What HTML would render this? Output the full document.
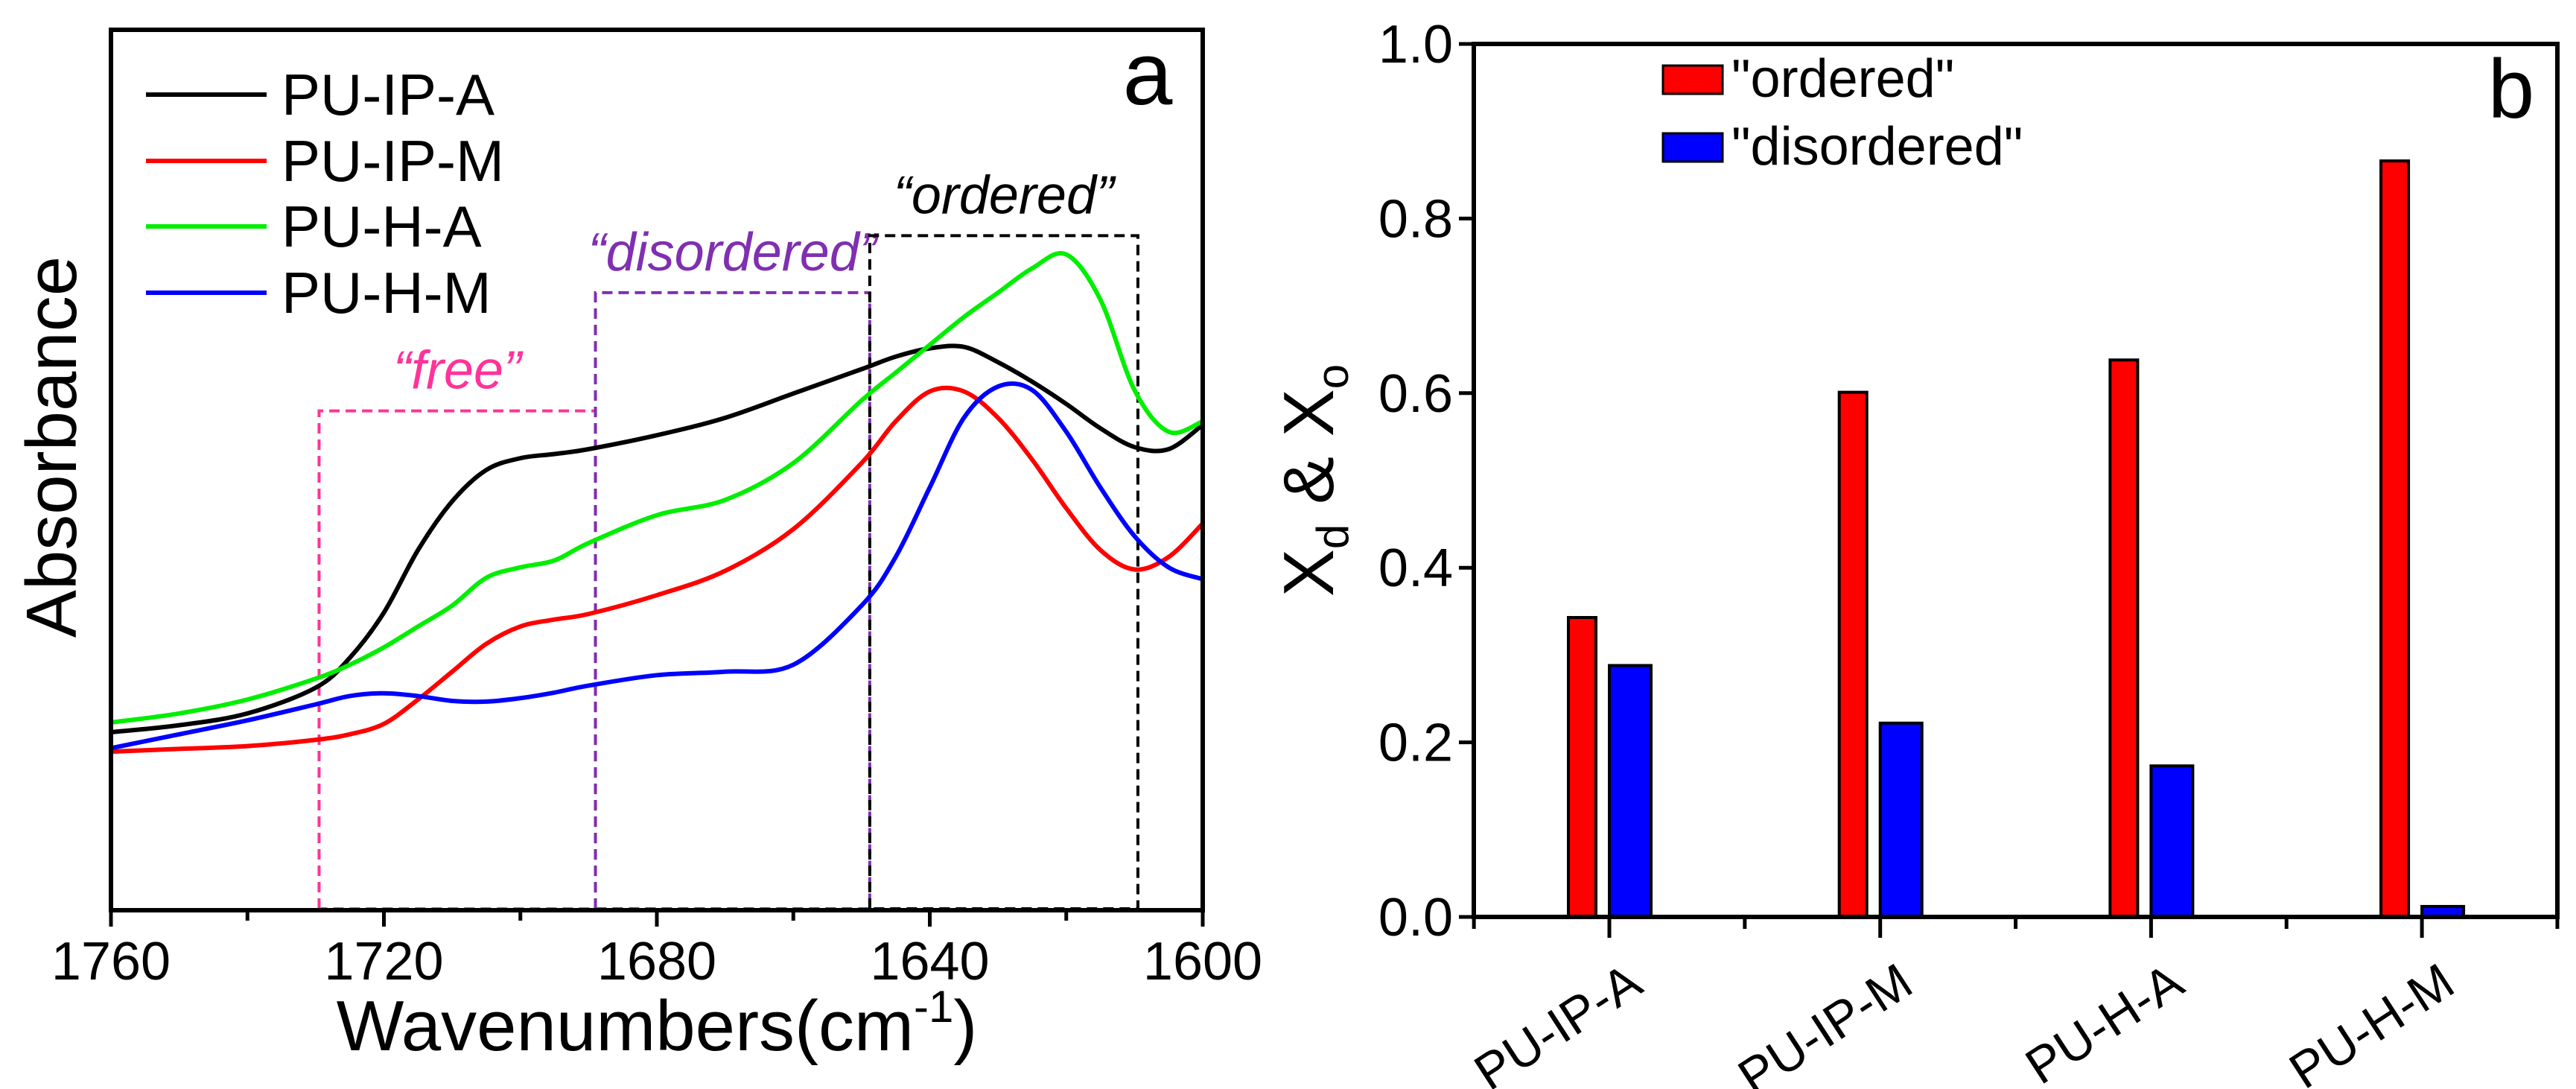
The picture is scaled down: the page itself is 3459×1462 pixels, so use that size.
<!DOCTYPE html>
<html><head><meta charset="utf-8">
<style>
html,body{margin:0;padding:0;background:#fff;}
svg{display:block;font-family:"Liberation Sans",Arial,sans-serif;}
</style></head>
<body>
<svg id="fig" width="3459" height="1462" viewBox="0 0 3459 1462" xmlns="http://www.w3.org/2000/svg">
<g id="pa"></g>
<g id="pb"></g>
</svg>
<script>
// ---------- Panel a data ----------
const wnPts = [1760,1750,1740,1730,1725,1720,1715,1710,1705,1700,1695,1690,1680,1670,1660,1650,1645,1640,1635,1630,1625,1620,1615,1610,1605,1600];
const absBlack = [1052,1042,1025,988,945,880,790,720,675,658,652,645,625,600,565,530,512,500,498,520,548,580,615,642,645,610];
const absRed   = [1080,1076,1072,1063,1055,1040,1005,965,925,900,890,882,855,820,760,665,605,562,562,600,660,730,790,818,800,752];
const absGreen = [1038,1025,1005,975,955,930,900,870,830,815,805,780,740,718,665,575,535,495,455,420,385,365,430,560,620,605];
const absBlue  = [1075,1055,1035,1012,1000,996,1000,1007,1008,1003,995,985,970,965,955,870,800,700,600,555,560,620,700,770,815,832];
const seriesNames = ["PU-IP-A","PU-IP-M","PU-H-A","PU-H-M"];
const seriesColors = ["#000000","#ff0000","#00ee00","#0000ff"];
const xTicksA = [1760,1720,1680,1640,1600];
const boxWn = [[1729.5,1689],[1689,1648.8],[1648.8,1609.5]];
const boxTop = [590,420,338];
const boxLabels = ["\u201cfree\u201d","\u201cdisordered\u201d","\u201cordered\u201d"];
const boxColors = ["#ff3399","#7f2fb0","#000000"];

// ---------- Panel b data ----------
const categories = ["PU-IP-A","PU-IP-M","PU-H-A","PU-H-M"];
const orderedVals = [0.343,0.601,0.638,0.866];
const disorderedVals = [0.288,0.222,0.173,0.012];
const yTicksB = ["0.0","0.2","0.4","0.6","0.8","1.0"];

const NS="http://www.w3.org/2000/svg";
function mk(tag, parent, attrs){const e=document.createElementNS(NS,tag);for(const k in attrs)e.setAttribute(k,attrs[k]);parent.appendChild(e);return e;}

// ---- Panel a ----
const pa=document.getElementById('pa');
const AL=149,AR=1615,AT=40,AB=1222;
const xA = wn => AL + (1760-wn)/(160)*(AR-AL);
const yA = d => AT + (d-42)*(AB-AT)/(1308-42);
function smooth(xs,ys){let p=`M${xs[0]},${ys[0]}`;for(let i=0;i<xs.length-1;i++){const x0=xs[Math.max(0,i-1)],y0=ys[Math.max(0,i-1)],x1=xs[i],y1=ys[i],x2=xs[i+1],y2=ys[i+1],x3=xs[Math.min(xs.length-1,i+2)],y3=ys[Math.min(xs.length-1,i+2)];p+=` C${x1+(x2-x0)/6},${y1+(y2-y0)/6} ${x2-(x3-x1)/6},${y2-(y3-y1)/6} ${x2},${y2}`;}return p;}

boxWn.forEach((b,i)=>{
  const x1=xA(b[0]),x2=xA(b[1]),yt=yA(boxTop[i]);
  const r=mk('path',pa,{d:`M${x1},${AB-2} L${x1},${yt} L${x2},${yt} L${x2},${AB-2} Z`,fill:'none',stroke:boxColors[i],'stroke-width':4,'stroke-dasharray':'14,8'});
  
  
  const t=mk('text',pa,{x:(x1+x2)/2,y:yt-30,'text-anchor':'middle','font-size':72,'font-style':'italic',fill:boxColors[i]});
  t.textContent=boxLabels[i];
  
  
});
[absBlack,absRed,absGreen,absBlue].forEach((s,i)=>{
  const xs=wnPts.map(xA), ys=s.map(yA);
  const p=mk('path',pa,{d:smooth(xs,ys),fill:'none',stroke:seriesColors[i],'stroke-width':6,'stroke-linejoin':'round'});
  
  
});
const fa=mk('rect',pa,{x:AL,y:AT,width:AR-AL,height:AB-AT,fill:'none',stroke:'#000','stroke-width':6});


for(let w=1760;w>=1600;w-=20){
  const major=(w%40===0);
  const tk=mk('line',pa,{x1:xA(w),x2:xA(w),y1:AB,y2:AB+(major?22:14),stroke:'#000','stroke-width':5});
  
  
}
xTicksA.forEach(w=>{
  const t=mk('text',pa,{x:xA(w),y:1315,'text-anchor':'middle','font-size':72,fill:'#000'});
  t.textContent=w;
  
  
});
seriesNames.forEach((n,i)=>{
  const y=[127,216,304,393][i];
  const l=mk('line',pa,{x1:196,x2:358,y1:y,y2:y,stroke:seriesColors[i],'stroke-width':6});
  
  
  const t=mk('text',pa,{x:378,y:y+27,'font-size':78,fill:'#000'});
  t.textContent=n;
  
  
});
</script>
<script>
(function(){
const pa=document.getElementById('pa');
const a=mk('text',pa,{x:1541,y:140,'text-anchor':'middle','font-size':120,fill:'#000'});a.textContent='a';


const xt=mk('text',pa,{x:882,y:1410,'text-anchor':'middle','font-size':96,fill:'#000'});
xt.innerHTML='Wavenumbers(cm<tspan font-size="60" dy="-38">-1</tspan><tspan dy="38">)</tspan>';


const yt=mk('text',pa,{x:0,y:0,'text-anchor':'middle','font-size':96,fill:'#000',transform:'translate(102,600) rotate(-90)'});
yt.textContent='Absorbance';


})();

(function(){
const pb=document.getElementById('pb');
const BL=1979,BR=3434,BT=59,BB=1231;
const yB = v => BB - v*(BB-BT);
const cat0=2161, catStep=363.7;
const xB = i => cat0 + i*catStep;
categories.forEach((c,i)=>{
  const r=mk('rect',pb,{x:xB(i)-55,y:yB(orderedVals[i]),width:37,height:BB-yB(orderedVals[i]),fill:'#ff0000',stroke:'#000','stroke-width':4});
  
  
  const b=mk('rect',pb,{x:xB(i),y:yB(disorderedVals[i]),width:56,height:BB-yB(disorderedVals[i]),fill:'#0000ff',stroke:'#000','stroke-width':4});
  
  
  const t=mk('text',pb,{x:0,y:0,'text-anchor':'end','font-size':68,fill:'#000',transform:`translate(${xB(i)+48},${1330}) rotate(-33)`});
  t.textContent=c;
  
  
});
const fb=mk('rect',pb,{x:BL,y:BT,width:BR-BL,height:BB-BT,fill:'none',stroke:'#000','stroke-width':6});


yTicksB.forEach(s=>{
  const v=parseFloat(s);
  const tk=mk('line',pb,{x1:BL-20,x2:BL,y1:yB(v),y2:yB(v),stroke:'#000','stroke-width':5});
  
  
  const t=mk('text',pb,{x:BL-28,y:yB(v)+25,'text-anchor':'end','font-size':72,fill:'#000'});
  t.textContent=s;
  
  
});
for(let k=-0.5;k<=3.5;k+=0.5){
  const major=Number.isInteger(k);
  const x=xB(k);
  if(x<BL-1||x>BR)continue;
  const tk=mk('line',pb,{x1:x,x2:x,y1:BB,y2:BB+(major?28:16),stroke:'#000','stroke-width':5});
  
  
}
const lr=mk('rect',pb,{x:2233,y:88,width:80,height:38,fill:'#ff0000',stroke:'#000','stroke-width':3});


const lt=mk('text',pb,{x:2325,y:130,'font-size':72,fill:'#000'});lt.textContent='"ordered"';


const lb=mk('rect',pb,{x:2233,y:179,width:80,height:38,fill:'#0000ff',stroke:'#000','stroke-width':3});


const lbt=mk('text',pb,{x:2325,y:221,'font-size':72,fill:'#000'});lbt.textContent='"disordered"';


const bl=mk('text',pb,{x:3372,y:158,'text-anchor':'middle','font-size':112,fill:'#000'});bl.textContent='b';


const yt=mk('text',pb,{x:0,y:0,'text-anchor':'middle','font-size':96,fill:'#000',transform:'translate(1790,645) rotate(-90)'});
yt.innerHTML='X<tspan font-size="60" dy="20">d</tspan><tspan dy="-20"> &amp; X</tspan><tspan font-size="60" dy="20">o</tspan>';


})();
</script>
</body></html>
